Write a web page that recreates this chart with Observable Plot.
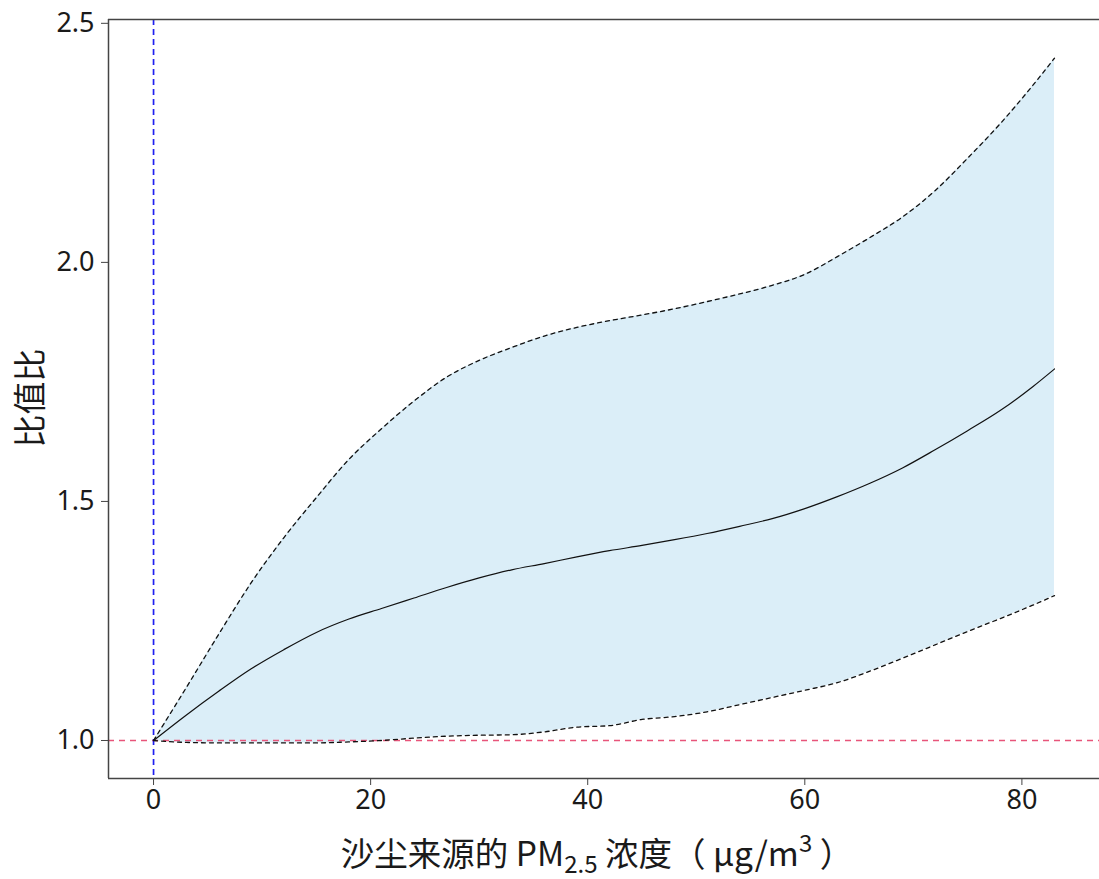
<!DOCTYPE html>
<html><head><meta charset="utf-8">
<script src="https://cdn.jsdelivr.net/npm/d3@7"></script>
<script src="https://cdn.jsdelivr.net/npm/@observablehq/plot@0.6"></script>
<style>body{margin:0;background:#fff;} svg{display:block;}</style>
</head><body><div id="chart"></div>
<script>
const xs    = [0, 3, 6, 9, 12, 15, 18, 21, 24, 27, 30, 33, 36, 39, 42, 45, 48, 51, 54, 57, 60, 63, 66, 69, 72, 75, 78, 81, 83];
const fit   = [1.000, 1.053, 1.103, 1.150, 1.190, 1.226, 1.254, 1.276, 1.298, 1.320, 1.340, 1.357, 1.370, 1.384, 1.397, 1.408, 1.420, 1.433, 1.448, 1.464, 1.485, 1.510, 1.538, 1.570, 1.608, 1.648, 1.690, 1.740, 1.777];
const upper = [1.000, 1.110, 1.222, 1.330, 1.424, 1.508, 1.588, 1.652, 1.710, 1.760, 1.795, 1.822, 1.846, 1.864, 1.878, 1.890, 1.903, 1.918, 1.934, 1.952, 1.975, 2.012, 2.052, 2.095, 2.150, 2.218, 2.290, 2.370, 2.427];
const lower = [1.000, 0.996, 0.995, 0.995, 0.995, 0.995, 0.997, 1.000, 1.005, 1.009, 1.011, 1.012, 1.018, 1.028, 1.031, 1.044, 1.050, 1.060, 1.075, 1.090, 1.105, 1.121, 1.145, 1.172, 1.200, 1.228, 1.255, 1.283, 1.303];
const xTicks = [0, 20, 40, 60, 80];
const yTicks = [1.0, 1.5, 2.0, 2.5];
const yTitle = "比值比";
const xTitleMain = "沙尘来源的 PM";
const xTitleSub = "2.5";
const xTitleMid = " 浓度（ μg/m";
const xTitleSup = "3";
const xTitleEnd = " ）";
const refX = [0];
const refY = [1];

const rows = xs.map((x, i) => ({x, fit: fit[i], lower: lower[i], upper: upper[i]}));
const xDom = [-4.15, 87.15];
const yDom = [0.9205, 2.508];
const FONT = '"Noto Sans CJK SC","Noto Sans",sans-serif';
const NUMFONT = '"Noto Sans","Open Sans",sans-serif';

const chart = Plot.plot({
  width: 1099, height: 879,
  marginLeft: 108, marginRight: 0, marginTop: 19, marginBottom: 101,
  style: {fontFamily: NUMFONT, background: "#fff", overflow: "visible"},
  x: {domain: xDom, label: null},
  y: {domain: yDom, label: null},
  marks: [
    Plot.areaY(rows, {x: "x", y1: "lower", y2: "upper", fill: "#dbeef8", curve: "monotone-x"}),
    Plot.ruleY(refY, {stroke: "#e8557a", strokeDasharray: "6,5", strokeWidth: 1.4}),
    Plot.ruleX(refX, {stroke: "#1f1ff0", strokeDasharray: "6,4", strokeWidth: 1.7}),
    Plot.lineY(rows, {x: "x", y: "upper", stroke: "#111", strokeWidth: 1.3, strokeDasharray: "4,4", curve: "monotone-x"}),
    Plot.lineY(rows, {x: "x", y: "lower", stroke: "#111", strokeWidth: 1.3, strokeDasharray: "4,4", curve: "monotone-x"}),
    Plot.lineY(rows, {x: "x", y: "fit", stroke: "#111", strokeWidth: 1.2, curve: "monotone-x"}),
    Plot.ruleY([yDom[1]], {stroke: "#444", strokeWidth: 1.5}),
    Plot.ruleY([yDom[0]], {stroke: "#444", strokeWidth: 1.5}),
    Plot.ruleX([xDom[0]], {stroke: "#444", strokeWidth: 1.5}),
    Plot.axisX({ticks: xTicks, tickFormat: d => String(d), tickSize: 7, tickPadding: 4, fontSize: 27, stroke: "#444", fill: "#1a1a1a", label: null}),
    Plot.axisY({ticks: yTicks, tickFormat: d => d.toFixed(1), tickSize: 7, tickPadding: 7, fontSize: 27, stroke: "#444", fill: "#1a1a1a", label: null})
  ]
});

const svg = d3.select(chart);
const xt = svg.append("text")
  .attr("x", 597).attr("y", 866)
  .attr("text-anchor", "middle")
  .attr("font-family", FONT).attr("font-size", 33.5).attr("fill", "#1a1a1a");
xt.append("tspan").text(xTitleMain);
xt.append("tspan").attr("font-size", 24).attr("dy", 7).text(xTitleSub);
xt.append("tspan").attr("dy", -7).text(xTitleMid);
xt.append("tspan").attr("font-size", 24).attr("dy", -14).text(xTitleSup);
xt.append("tspan").attr("dy", 14).text(xTitleEnd);

svg.append("text")
  .attr("transform", "translate(42,398) rotate(-90)")
  .attr("text-anchor", "middle")
  .attr("font-family", FONT).attr("font-size", 33).attr("fill", "#1a1a1a")
  .text(yTitle);

document.getElementById("chart").appendChild(chart);
</script>
</body></html>
